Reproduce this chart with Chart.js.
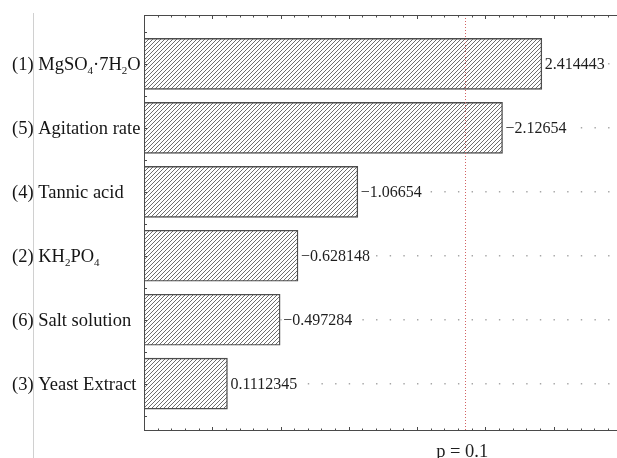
<!DOCTYPE html>
<html>
<head>
<meta charset="utf-8">
<script src="https://cdn.jsdelivr.net/npm/chart.js@4.4.0/dist/chart.umd.min.js"></script>
<style>
  html, body { margin: 0; padding: 0; background: #fff; overflow: hidden; width: 617px; height: 458px; }
  #wrap { position: absolute; left: 0; top: 0; width: 640px; height: 458px; }
  #rule { position: absolute; left: 33px; top: 13px; width: 0; height: 445px; border-left: 1px solid #d0d0d0; }
</style>
</head>
<body>
<div id="wrap"><canvas id="c" width="640" height="458"></canvas></div>
<div id="rule"></div>
<script>
// Factors, top to bottom; "_x" marks a subscript character
const FACTORS = ['(1) MgSO_4·7H_2O', '(5) Agitation rate', '(4) Tannic acid', '(2) KH_2PO_4', '(6) Salt solution', '(3) Yeast Extract'];
// Standardized effects (bars show the magnitude)
const EFFECTS = [2.414443, -2.12654, -1.06654, -0.628148, -0.497284, 0.1112345];
// Significance threshold
const P_LABEL = 'p = 0.1';
const P_CRIT = 1.853;
// Value-axis range
const X_MIN = -0.5;
const X_MAX = 3.0;

const SERIF = '"Liberation Serif", "Times New Roman", serif';

function hatchPattern() {
  const s = 4;
  const c = document.createElement('canvas');
  c.width = s; c.height = s;
  const g = c.getContext('2d');
  g.fillStyle = '#ffffff';
  g.fillRect(0, 0, s, s);
  g.strokeStyle = '#6e6e6e';
  g.lineWidth = 1;
  g.beginPath();
  g.moveTo(0, s); g.lineTo(s, 0);
  g.moveTo(-1, 1); g.lineTo(1, -1);
  g.moveTo(s - 1, s + 1); g.lineTo(s + 1, s - 1);
  g.stroke();
  return g.createPattern(c, 'repeat');
}

function fmt(v) {
  return (v < 0 ? '\u2212' : '') + String(Math.abs(v));
}

function drawRich(ctx, text, x, y) {
  const parts = [];
  for (let i = 0; i < text.length; i++) {
    if (text[i] === '_' && i + 1 < text.length) {
      parts.push({ t: text[i + 1], sub: true });
      i++;
    } else if (parts.length && !parts[parts.length - 1].sub) {
      parts[parts.length - 1].t += text[i];
    } else {
      parts.push({ t: text[i], sub: false });
    }
  }
  let cx = x;
  for (const p of parts) {
    ctx.font = (p.sub ? '11px ' : '18.5px ') + SERIF;
    ctx.fillText(p.t, cx, p.sub ? y + 4 : y);
    cx += ctx.measureText(p.t).width;
  }
}

const isStep = (v, step) => Math.abs(v / step - Math.round(v / step)) < 1e-6;

const decorations = {
  id: 'decorations',
  afterDatasetsDraw(chart) {
    const { ctx, chartArea: a, scales: { x, y } } = chart;
    ctx.save();

    // threshold line
    const px = x.getPixelForValue(P_CRIT);
    ctx.strokeStyle = '#d26262';
    ctx.lineWidth = 1;
    ctx.setLineDash([1, 2]);
    ctx.beginPath();
    ctx.moveTo(Math.round(px) + 0.5, a.top);
    ctx.lineTo(Math.round(px) + 0.5, a.bottom);
    ctx.stroke();
    ctx.setLineDash([]);

    // frame
    ctx.strokeStyle = '#4a4a4a';
    ctx.lineWidth = 1;
    ctx.beginPath();
    ctx.moveTo(a.left + 0.5, a.top + 0.5);
    ctx.lineTo(a.right, a.top + 0.5);
    ctx.moveTo(a.left + 0.5, a.bottom - 0.5);
    ctx.lineTo(a.right, a.bottom - 0.5);
    ctx.moveTo(a.left + 0.5, a.top);
    ctx.lineTo(a.left + 0.5, a.bottom);
    ctx.stroke();

    // inward tick marks
    ctx.beginPath();
    for (const t of x.ticks) {
      const tx = Math.round(x.getPixelForValue(t.value)) + 0.5;
      const len = isStep(t.value, 0.5) ? 4 : 2.5;
      ctx.moveTo(tx, a.top);
      ctx.lineTo(tx, a.top + len);
      ctx.moveTo(tx, a.bottom);
      ctx.lineTo(tx, a.bottom - len);
    }
    for (const t of y.ticks) {
      if (!isStep(t.value, 0.5)) continue;
      const ty = Math.round(y.getPixelForValue(t.value)) + 0.5;
      ctx.moveTo(a.left, ty);
      ctx.lineTo(a.left + 3, ty);
    }
    ctx.stroke();

    // value labels at bar ends
    const meta = chart.getDatasetMeta(0);
    ctx.font = '16px ' + SERIF;
    ctx.textBaseline = 'middle';
    ctx.textAlign = 'left';
    meta.data.forEach((bar, i) => {
      const s = fmt(EFFECTS[i]);
      const w = ctx.measureText(s).width;
      ctx.fillStyle = '#fff';
      ctx.fillRect(bar.x + 1.5, bar.y - 8, w + 4, 16);
      ctx.fillStyle = '#1e1e1e';
      ctx.fillText(s, bar.x + 3, bar.y + 1);
    });

    // factor names
    ctx.textBaseline = 'alphabetic';
    ctx.fillStyle = '#151515';
    FACTORS.forEach((name, i) => {
      drawRich(ctx, name, 12, y.getPixelForValue(i) + 6.5);
    });

    // threshold caption
    ctx.font = '18.5px ' + SERIF;
    ctx.textAlign = 'center';
    ctx.fillStyle = '#1e1e1e';
    ctx.fillText(P_LABEL, px - 3, 457);

    ctx.restore();
  }
};

function rowGridColor(c) {
  const t = c && c.tick;
  if (!t) return 'rgba(0,0,0,0)';
  return (isStep(t.value, 1) && t.value >= 0 && t.value < FACTORS.length) ? '#a6a6a6' : 'rgba(0,0,0,0)';
}

new Chart(document.getElementById('c'), {
  type: 'bar',
  data: {
    datasets: [{
      data: EFFECTS.map((v, i) => ({ x: Math.abs(v), y: i })),
      base: X_MIN,
      backgroundColor: hatchPattern(),
      borderColor: '#4d4d4d',
      borderWidth: 1.4,
      borderSkipped: false,
      barThickness: 51
    }]
  },
  options: {
    indexAxis: 'y',
    responsive: false,
    animation: false,
    events: [],
    devicePixelRatio: 1,
    layout: { padding: { left: 144, right: 18.25, top: 15, bottom: 27 } },
    plugins: { legend: { display: false }, tooltip: { enabled: false } },
    scales: {
      x: {
        type: 'linear',
        min: X_MIN,
        max: X_MAX,
        ticks: { display: false, stepSize: 0.1 },
        grid: { display: false },
        border: { display: false },
        afterFit: s => { s.height = 0; }
      },
      y: {
        type: 'linear',
        reverse: true,
        offset: false,
        min: -0.765,
        max: 5.74,
        ticks: { display: false, stepSize: 0.5 },
        grid: {
          offset: false,
          drawTicks: false,
          lineWidth: 1.4,
          color: rowGridColor
        },
        border: { display: false, dash: [1.4, 12.25] },
        afterFit: s => { s.width = 0; }
      }
    }
  },
  plugins: [decorations]
});
</script>
</body>
</html>
